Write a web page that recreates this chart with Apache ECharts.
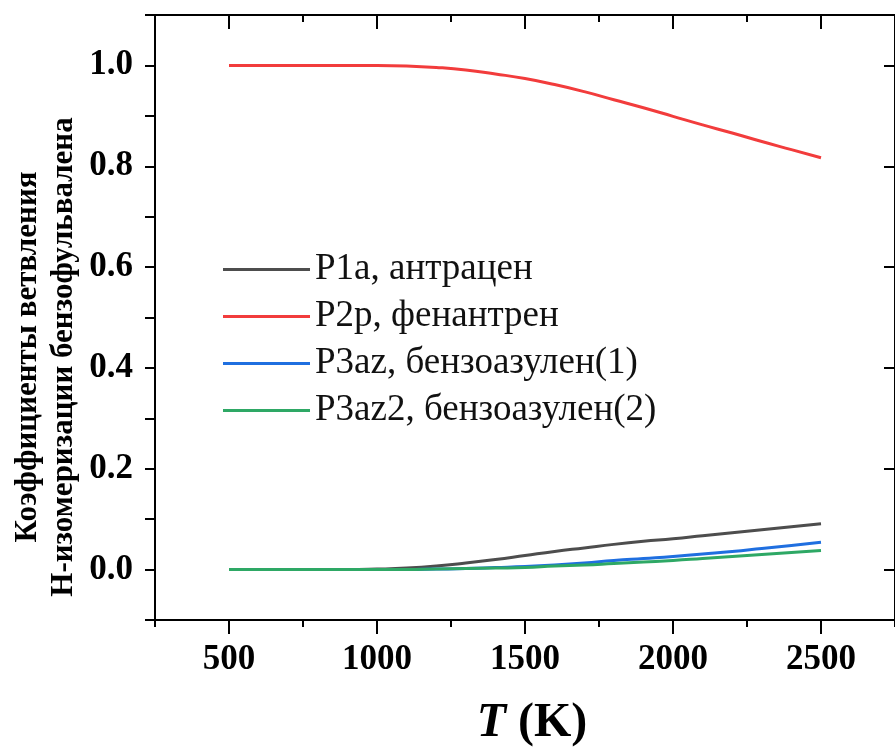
<!DOCTYPE html>
<html>
<head>
<meta charset="utf-8">
<script src="https://cdn.jsdelivr.net/npm/echarts@6/dist/echarts.min.js"></script>
<style>
  html, body { margin: 0; padding: 0; background: #fff; }
  #chart { width: 895px; height: 751px; }
</style>
</head>
<body>
<div id="chart"></div>
<script>
// температура, K
const temps = [500, 600, 700, 800, 900, 1000, 1100, 1200, 1300, 1400, 1500,
  1600, 1700, 1800, 1900, 2000, 2100, 2200, 2300, 2400, 2500];
// коэффициенты ветвления
const p1a = [0, 0, 0, 0, 0, 0.001, 0.003, 0.007, 0.013, 0.020, 0.028,
  0.036, 0.043, 0.050, 0.056, 0.061, 0.067, 0.073, 0.079, 0.085, 0.091];
const p2p = [1.0, 1.0, 1.0, 1.0, 1.0, 1.0, 0.999, 0.996, 0.991, 0.983, 0.974,
  0.962, 0.948, 0.932, 0.916, 0.899, 0.882, 0.866, 0.849, 0.833, 0.817];
const p3az = [0, 0, 0, 0, 0, 0, 0, 0.001, 0.002, 0.004, 0.006,
  0.009, 0.013, 0.018, 0.022, 0.026, 0.031, 0.036, 0.042, 0.048, 0.054];
const p3az2 = [0, 0, 0, 0, 0, 0, 0, 0.001, 0.002, 0.003, 0.004,
  0.007, 0.009, 0.012, 0.015, 0.018, 0.022, 0.026, 0.030, 0.034, 0.038];

const seriesNames = ["P1a, антрацен", "P2p, фенантрен", "P3az, бензоазулен(1)", "P3az2, бензоазулен(2)"];
const seriesValues = [p1a, p2p, p3az, p3az2];
const colors = ["#4d4d4d", "#f23c3c", "#1f6fe0", "#2ea865"];

const xMajor = [500, 1000, 1500, 2000, 2500];
const xMinor = [250, 750, 1250, 1750, 2250, 2750];
const yMajor = [0, 0.2, 0.4, 0.6, 0.8, 1.0];

const serif = "Liberation Serif, 'Times New Roman', serif";
const chart = echarts.init(document.getElementById("chart"));

const axisLineStyle = { color: "#000", width: 2 };
const tickStyle = { width: 2, color: "#000" };

// оси X: основная снизу + минорные засечки, дубли сверху
function xAxisPart(position, ticks, len, withLine, withLabel) {
  return {
    type: "value", position: position, min: 250, max: 2750,
    axisLine: { show: withLine, onZero: false, lineStyle: axisLineStyle },
    axisTick: { show: true, inside: position === "top", customValues: ticks, length: len, lineStyle: tickStyle },
    axisLabel: withLabel ? {
      customValues: xMajor, margin: 22, fontFamily: serif, fontWeight: "bold", fontSize: 35, color: "#000",
      formatter: (v) => String(v)
    } : { show: false },
    splitLine: { show: false }
  };
}

chart.setOption({
  animation: false,
  grid: { left: 155, top: 15, right: -8, bottom: 131 },
  color: colors,
  legend: {
    orient: "vertical",
    left: 218,
    top: 246,
    icon: "rect",
    itemWidth: 87,
    itemHeight: 3,
    itemGap: 10,
    textStyle: { fontFamily: serif, fontSize: 37, color: "#111", lineHeight: 37 },
    data: seriesNames
  },
  xAxis: [
    xAxisPart("bottom", xMajor, 14, true, true),
    xAxisPart("bottom", xMinor, 7, false, false),
    xAxisPart("top", xMajor, 14, true, false),
    xAxisPart("top", xMinor, 7, false, false)
  ],
  yAxis: [
    {
      type: "value", position: "left", min: -0.1, max: 1.1, interval: 0.1,
      axisLine: { show: true, onZero: false, lineStyle: axisLineStyle },
      axisTick: { show: true, length: 10, lineStyle: tickStyle },
      axisLabel: {
        customValues: yMajor, margin: 22,
        fontFamily: serif, fontWeight: "bold", fontSize: 35, color: "#000",
        formatter: (v) => v.toFixed(1)
      },
      splitLine: { show: false }
    },
    {
      type: "value", position: "right", min: -0.1, max: 1.1,
      axisLine: { show: true, onZero: false, lineStyle: axisLineStyle },
      axisTick: { show: true, inside: true, customValues: yMajor, length: 11, lineStyle: tickStyle },
      axisLabel: { show: false }, splitLine: { show: false }
    }
  ],
  graphic: [
    {
      type: "text", x: 532, y: 724,
      style: {
        align: "center", verticalAlign: "middle",
        text: "{i|T}{b| (K)}",
        rich: {
          i: { fontFamily: serif, fontStyle: "italic", fontWeight: "bold", fontSize: 48, fill: "#000" },
          b: { fontFamily: serif, fontWeight: "bold", fontSize: 48, fill: "#000" }
        }
      }
    },
    {
      type: "text", x: 28, y: 357, rotation: Math.PI / 2,
      style: {
        text: "Коэффициенты ветвления", align: "center", verticalAlign: "middle",
        fontFamily: serif, fontWeight: "bold", fontSize: 31, fill: "#000"
      }
    },
    {
      type: "text", x: 64, y: 357, rotation: Math.PI / 2,
      style: {
        text: "H-изомеризации бензофульвалена", align: "center", verticalAlign: "middle",
        fontFamily: serif, fontWeight: "bold", fontSize: 31, fill: "#000"
      }
    }
  ],
  series: seriesNames.map((name, i) => ({
    name: name,
    type: "line",
    xAxisIndex: 0,
    yAxisIndex: 0,
    smooth: true,
    symbol: "none",
    lineStyle: { width: 3, color: colors[i] },
    itemStyle: { color: colors[i] },
    data: temps.map((t, k) => [t, seriesValues[i][k]])
  }))
});
</script>
</body>
</html>
